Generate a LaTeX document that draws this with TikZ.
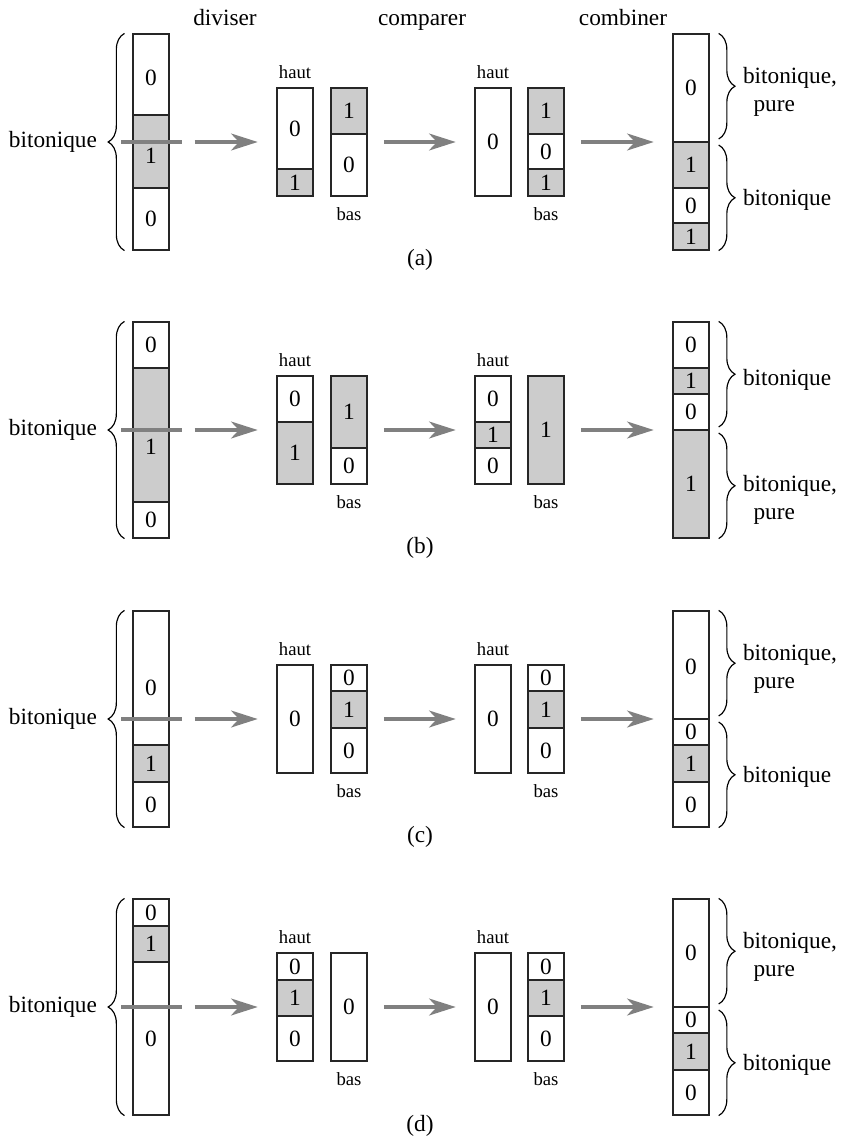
\documentclass[tikz,border=0pt]{standalone}
\usepackage{fontspec}
\setmainfont{Liberation Serif}
\usetikzlibrary{arrows.meta,calc,fit,decorations.pathreplacing}
\definecolor{Trait}{gray}{0.5}
\definecolor{Case}{gray}{0.8}

\newcommand{\colonne}[5]{%
  \foreach \a/\b/\v/\d in {#5}
    \draw[cell,val=\v] (#2,#3+\a) rectangle (#2+36,#3+\b)
      node[chiffre] (#1c\a) at (#2+18,#3+\a/2+\b/2+\d) {\v};
  \node[colbox,fit={(#2,#3) (#2+36,#3+#4)}] (#1) {};
}
\newcommand{\etape}[1]{%
  \draw[coupe] ($(#1in.west)+(-11,0)$) -- ($(#1in.east)+(12,0)$);
  \draw[arr,shorten <=10.7pt] (#1in) -- (#1h1);
  \draw[arr] (#1b1) -- (#1h2);
  \draw[arr] (#1b2) -- (#1co);
  \node[petit,above=3.4pt] (#1th1) at (#1h1.north) {haut};
  \node[petit,above=3.4pt] (#1th2) at (#1h2.north) {haut};
  \node[petit,below=4.3pt] (#1tb1) at (#1b1.south) {bas};
  \node[petit,below=4.3pt] (#1tb2) at (#1b2.south) {bas};
  \draw[accolade] ([xshift=-3.4pt]#1in.south west) -- ([xshift=-3.4pt]#1in.north west);
  \node[etiq,anchor=east] (#1gau) at ([xshift=-15pt]#1in.west) {bitonique};
}
\newcommand{\droite}[4][4]{%
  \draw[accolade] ([xshift=3.9pt]#2co.north east) -- ([xshift=3.9pt,yshift=1.3pt]#2co.east);
  \draw[accolade] ([xshift=3.9pt,yshift=-1.3pt]#2co.east) -- ([xshift=3.9pt]#2co.south east);
  \node[etiq,anchor=west,align=left] (#2hau) at ($(#2co.north east)!.5!(#2co.east)+(33,4)$) {#3};
  \node[etiq,anchor=west,align=left] (#2bas) at ($(#2co.east)!.5!(#2co.south east)+(33,#1)$) {#4};
}

\begin{document}
\begin{tikzpicture}[x=0.429pt,y=-0.429pt,
    cell/.style={draw=black!85,line width=0.5pt},
    val/.code={\ifnum#1=1 \tikzset{fill=Case}\else\tikzset{fill=white}\fi},
    chiffre/.style={inner sep=0pt},
    colbox/.style={draw=black!85,line width=0.5pt,inner sep=0pt},
    arr/.style={-{Stealth[length=11.4pt,width=7.2pt,inset=3.3pt]},draw=Trait,line width=1.7pt,shorten <=7pt,shorten >=8pt},
    coupe/.style={draw=Trait,line width=1.7pt},
    accolade/.style={decorate,decoration={brace,amplitude=7pt},line width=0.5pt},
    etiq/.style={inner sep=0pt},
    petit/.style={font=\footnotesize,inner sep=0pt}]
  \useasboundingbox (0,0) rectangle (842,1138);
  \node[etiq,anchor=base] (div) at (225,25) {diviser};
  \node[etiq,anchor=base] (cmp) at (422,25) {comparer};
  \node[etiq,anchor=base] (cmb) at (623,25) {combiner};

  \colonne{ain}{133}{34}{216}{0/81/0/3,81/154/1/4,154/216/0/0}
  \colonne{ah1}{277}{88}{108}{0/81/0/0,81/108/1/0}
  \colonne{ab1}{331}{88}{108}{0/46/1/0,46/108/0/0}
  \colonne{ah2}{475}{88}{108}{0/108/0/0}
  \colonne{ab2}{528}{88}{108}{0/46/1/0,46/81/0/0,81/108/1/0}
  \colonne{aco}{673}{34}{216}{0/108/0/0,108/154/1/0,154/189/0/0,189/216/1/0}
  \etape{a}
  \droite{a}{bitonique,\\\hspace*{.45em}pure}{bitonique}
  \node[etiq] (acap) at (420,260) {(a)};

  \colonne{bin}{133}{322}{216}{0/46/0/0,46/180/1/12,180/216/0/0}
  \colonne{bh1}{277}{376}{108}{0/46/0/0,46/108/1/0}
  \colonne{bb1}{331}{376}{108}{0/72/1/0,72/108/0/0}
  \colonne{bh2}{475}{376}{108}{0/46/0/0,46/72/1/0,72/108/0/0}
  \colonne{bb2}{528}{376}{108}{0/108/1/0}
  \colonne{bco}{673}{322}{216}{0/46/0/0,46/72/1/0,72/108/0/0,108/216/1/0}
  \etape{b}
  \droite[16]{b}{bitonique}{bitonique,\\\hspace*{.45em}pure}
  \node[etiq] (bcap) at (420,548) {(b)};

  \colonne{cin}{133}{611}{216}{0/134/0/10,134/171/1/0,171/216/0/0}
  \colonne{ch1}{277}{665}{108}{0/108/0/0}
  \colonne{cb1}{331}{665}{108}{0/26/0/0,26/63/1/0,63/108/0/0}
  \colonne{ch2}{475}{665}{108}{0/108/0/0}
  \colonne{cb2}{528}{665}{108}{0/26/0/0,26/63/1/0,63/108/0/0}
  \colonne{cco}{673}{611}{216}{0/108/0/2,108/134/0/0,134/171/1/0,171/216/0/0}
  \etape{c}
  \droite{c}{bitonique,\\\hspace*{.45em}pure}{bitonique}
  \node[etiq] (ccap) at (420,837) {(c)};

  \colonne{din}{133}{899}{216}{0/27/0/0,27/63/1/0,63/216/0/0}
  \colonne{dh1}{277}{953}{108}{0/27/0/0,27/63/1/0,63/108/0/0}
  \colonne{db1}{331}{953}{108}{0/108/0/0}
  \colonne{dh2}{475}{953}{108}{0/108/0/0}
  \colonne{db2}{528}{953}{108}{0/27/0/0,27/63/1/0,63/108/0/0}
  \colonne{dco}{673}{899}{216}{0/108/0/0,108/134/0/0,134/171/1/0,171/216/0/0}
  \etape{d}
  \droite{d}{bitonique,\\\hspace*{.45em}pure}{bitonique}
  \node[etiq] (dcap) at (420,1126) {(d)};
\end{tikzpicture}
\end{document}
